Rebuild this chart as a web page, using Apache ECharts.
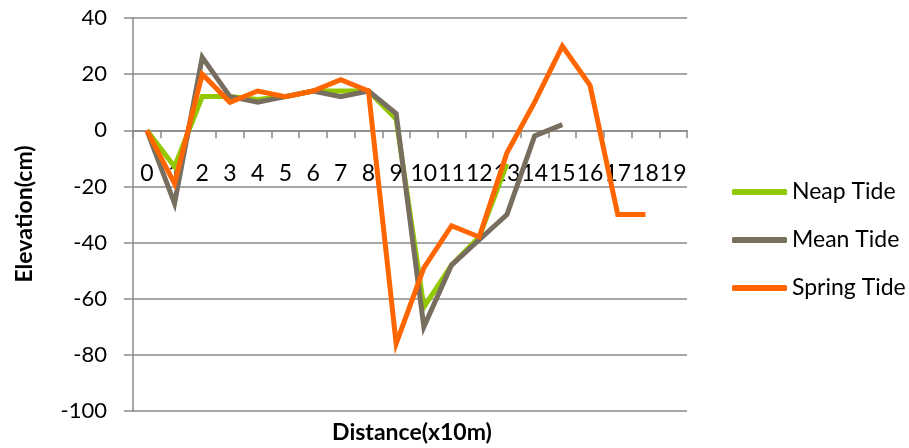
<!DOCTYPE html>
<html>
<head>
<meta charset="utf-8">
<script src="https://cdn.jsdelivr.net/npm/echarts@6/dist/echarts.min.js"></script>
<style>html,body{margin:0;padding:0;background:#fff}#c{width:909px;height:448px}</style>
</head>
<body>
<div id="c"></div>
<script>
var categories = ['0','1','2','3','4','5','6','7','8','9','10','11','12','13','14','15','16','17','18','19'];
var neapTide   = [0, -13, 12, 12, 11, 12, 14, 14, 14, 4, -63, -48, -38, -12, null, null, null, null, null, null];
var meanTide   = [0, -26, 26, 12, 10, 12, 14, 12, 14, 6, -70, -48, -39, -30, -2, 2, null, null, null, null];
var springTide = [0, -19, 20, 10, 14, 12, 14, 18, 14, -76, -49, -34, -38, -8, 10, 30, 16, -30, -30, null];
var yMin = -100, yMax = 40, yStep = 20;

var FONT = 'Lato, "Liberation Sans", sans-serif';
var GRID = '#8a8a8a';
var gTop = 18, gBottom = 37, H = 448;
var gHeight = H - gTop - gBottom;
var zeroOffset = -(gHeight * (0 - yMin) / (yMax - yMin));

var chart = echarts.init(document.getElementById('c'), null, {renderer: 'canvas'});
chart.setOption({
  animation: false,
  backgroundColor: '#fff',
  grid: {left: 133, right: 222, top: gTop, bottom: gBottom, containLabel: false},
  xAxis: {
    type: 'category',
    data: categories,
    boundaryGap: true,
    position: 'bottom',
    offset: zeroOffset,
    axisLine: {onZero: false, lineStyle: {color: GRID, width: 1.5}},
    axisTick: {show: true, alignWithLabel: false, length: 8, lineStyle: {color: GRID, width: 1.5}},
    axisLabel: {interval: 0, color: '#000', fontSize: 23, fontFamily: FONT, margin: 32, hideOverlap: false},
    splitLine: {show: false}
  },
  yAxis: {
    type: 'value',
    min: yMin,
    max: yMax,
    interval: yStep,
    axisLine: {show: true, lineStyle: {color: GRID, width: 1.5}},
    axisTick: {show: true, inside: false, length: 9, lineStyle: {color: GRID, width: 1.5}},
    axisLabel: {color: '#000', fontSize: 22, fontFamily: FONT, margin: 26},
    splitLine: {show: true, lineStyle: {color: GRID, width: 1.5}}
  },
  legend: {
    orient: 'vertical',
    left: 727,
    top: 173,
    itemWidth: 55,
    itemHeight: 6,
    itemGap: 20,
    icon: 'roundRect',
    textStyle: {fontSize: 23, color: '#000', fontFamily: FONT, lineHeight: 28},
    data: ['Neap Tide', 'Mean Tide', 'Spring Tide']
  },
  graphic: [{
    type: 'text',
    x: 412, y: 433,
    style: {text: 'Distance(x10m)', font: 'bold 23px ' + FONT, fill: '#000', align: 'center', verticalAlign: 'middle'}
  }, {
    type: 'text',
    x: 25, y: 214,
    rotation: Math.PI / 2,
    style: {text: 'Elevation(cm)', font: 'bold 23px ' + FONT, fill: '#000', align: 'center', verticalAlign: 'middle'}
  }],
  series: [
    {name: 'Neap Tide', type: 'line', data: neapTide, symbol: 'none', connectNulls: false,
     lineStyle: {width: 5, color: '#92c800', join: 'miter'}, itemStyle: {color: '#92c800'}},
    {name: 'Mean Tide', type: 'line', data: meanTide, symbol: 'none', connectNulls: false,
     lineStyle: {width: 5, color: '#786e60', join: 'miter'}, itemStyle: {color: '#786e60'}},
    {name: 'Spring Tide', type: 'line', data: springTide, symbol: 'none', connectNulls: false,
     lineStyle: {width: 5, color: '#ff6600', join: 'miter'}, itemStyle: {color: '#ff6600'}}
  ]
});
</script>
</body>
</html>
